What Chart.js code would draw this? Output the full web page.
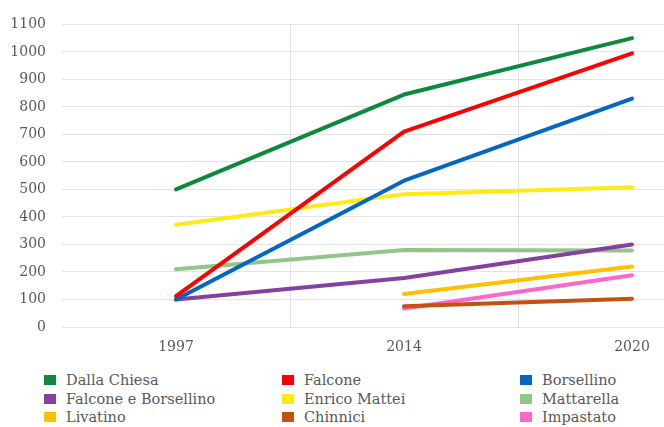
<!DOCTYPE html>
<html>
<head>
<meta charset="utf-8">
<script src="https://cdn.jsdelivr.net/npm/chart.js@4/dist/chart.umd.min.js"></script>
<style>
  html, body { margin: 0; padding: 0; background: #fff; }
  #wrap { position: relative; width: 664px; height: 427px; overflow: hidden; }
  #plot { position: absolute; left: 0; top: 0; width: 746px; height: 362px; }
  #legend { position: absolute; left: 44px; top: 371px; display: grid;
            grid-template-columns: 238px 238px 200px; grid-auto-rows: 18.5px;
            font-family: "DejaVu Serif", "Liberation Serif", "Times New Roman", serif;
            font-size: 14.5px; color: #595959; }
  #legend div { display: flex; align-items: center; white-space: nowrap; }
  #legend span.box { display: inline-block; width: 12px; height: 10px; margin-right: 10px; }
</style>
</head>
<body>
<div id="wrap">
  <div id="plot"><canvas id="chart-linee"></canvas></div>
  <div id="legend"></div>
</div>
<script>
var years = ["1997", "2014", "2020"];
var yTicks = [0, 100, 200, 300, 400, 500, 600, 700, 800, 900, 1000, 1100];

var dallaChiesa = [500, 845, 1050];
var falcone = [112, 710, 995];
var borsellino = [100, 532, 830];
var falconeBorsellino = [100, 178, 300];
var enricoMattei = [372, 483, 508];
var mattarella = [210, 280, 278];
var livatino = [null, 120, 220];
var chinnici = [null, 75, 103];
var impastato = [null, 67, 188];

var nomi = ["Dalla Chiesa", "Falcone", "Borsellino", "Falcone e Borsellino", "Enrico Mattei",
            "Mattarella", "Livatino", "Chinnici", "Impastato"];
var serie = [dallaChiesa, falcone, borsellino, falconeBorsellino, enricoMattei,
             mattarella, livatino, chinnici, impastato];
var colori = ["#0b8a3c", "#ff0000", "#0068c2", "#8441a0", "#ffea14",
              "#93c58a", "#ffc000", "#c4520f", "#ff66cc"];

var datasets = serie.map(function (d, i) {
  return {
    label: nomi[i],
    data: d,
    borderColor: colori[i],
    backgroundColor: colori[i],
    borderWidth: 4,
    borderCapStyle: "round",
    borderJoinStyle: "round",
    pointRadius: 0,
    tension: 0,
    fill: false
  };
});

var font = { family: "'DejaVu Serif', 'Liberation Serif', 'Times New Roman', serif", size: 14 };

new Chart(document.getElementById("chart-linee").getContext("2d"), {
  type: "line",
  data: { labels: years, datasets: datasets },
  options: {
    responsive: true,
    maintainAspectRatio: false,
    animation: false,
    layout: { padding: { top: 14, left: 0, right: 0, bottom: 0 } },
    plugins: { legend: { display: false }, tooltip: { enabled: false } },
    scales: {
      x: {
        offset: true,
        grid: {
          offset: true,
          drawTicks: false,
          color: function (ctx) { return ctx.index === 0 ? "rgba(0,0,0,0)" : "#e3e3e3"; },
          lineWidth: 1
        },
        border: { display: false },
        ticks: { font: font, color: "#595959", padding: 12 },
        afterFit: function (scale) { scale.height = 35; }
      },
      y: {
        min: 0,
        max: 1100,
        afterBuildTicks: function (scale) {
          scale.ticks = yTicks.map(function (v) { return { value: v }; });
        },
        grid: { drawTicks: false, color: "#e3e3e3", lineWidth: 1 },
        border: { display: false },
        ticks: {
          font: font,
          color: "#595959",
          padding: 16,
          callback: function (v) { return String(v); }
        },
        afterFit: function (scale) { scale.width = 62; }
      }
    }
  }
});

var legend = document.getElementById("legend");
nomi.forEach(function (n, i) {
  var item = document.createElement("div");
  var box = document.createElement("span");
  box.className = "box";
  box.style.background = colori[i];
  item.appendChild(box);
  item.appendChild(document.createTextNode(n));
  legend.appendChild(item);
});
</script>
</body>
</html>
